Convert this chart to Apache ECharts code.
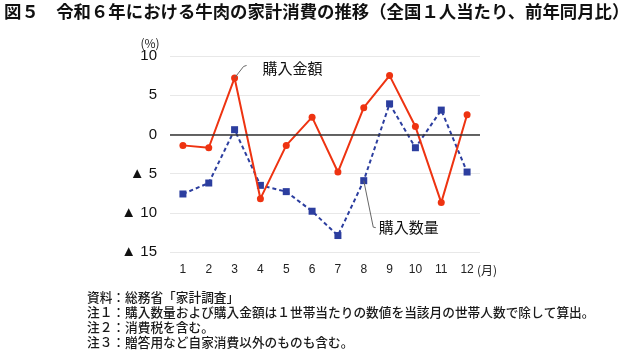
<!DOCTYPE html>
<html>
<head>
<meta charset="utf-8">
<script src="https://cdn.jsdelivr.net/npm/echarts@6/dist/echarts.min.js"></script>
<style>
  html, body { margin: 0; padding: 0; background: #fff; }
  #chart { width: 640px; height: 353px; }
</style>
</head>
<body>
<div id="chart"></div>
<script>
const months = ['1', '2', '3', '4', '5', '6', '7', '8', '9', '10', '11', '12']
const amount = [-1.4, -1.7, 7.2, -8.2, -1.4, 2.2, -4.8, 3.4, 7.5, 1.0, -8.7, 2.5]   // 購入金額
const quantity = [-7.6, -6.2, 0.6, -6.5, -7.3, -9.8, -12.9, -5.9, 3.9, -1.7, 3.1, -4.8] // 購入数量
const notes = [
  '資料：総務省「家計調査」',
  '注１：購入数量および購入金額は１世帯当たりの数値を当該月の世帯人数で除して算出。',
  '注２：消費税を含む。',
  '注３：贈答用など自家消費以外のものも含む。'
]

const JP = '"Noto Sans CJK JP", sans-serif'
const RED = '#ee3311'
const BLUE = '#2c3e9f'

const chart = echarts.init(document.getElementById('chart'))

const graphics = [
  { type: 'text', left: 4, top: 3, style: { text: '図５　令和６年における牛肉の家計消費の推移（全国１人当たり、前年同月比）', font: 'bold 17.4px ' + JP, fill: '#111' } },
  { type: 'text', x: 150, y: 43, style: { text: '(%)', font: '12px ' + JP, fill: '#222', textAlign: 'center', textVerticalAlign: 'middle' } },
  { type: 'text', x: 477, y: 270, style: { text: '(月)', font: '12px ' + JP, fill: '#222', textVerticalAlign: 'middle' } }
]
notes.forEach((t, i) => {
  graphics.push({ type: 'text', x: 87, y: 297 + i * 15, style: { text: t, font: '500 12.7px ' + JP, fill: '#1a1a1a', textVerticalAlign: 'middle' } })
})

chart.setOption({
  animation: false,
  grid: { left: 170, right: 160, top: 56, bottom: 101 },
  xAxis: {
    type: 'category', data: months,
    axisLine: { show: false }, axisTick: { show: false },
    axisLabel: { color: '#222', fontSize: 12, fontFamily: 'Liberation Sans', margin: 12 }
  },
  yAxis: {
    type: 'value', min: -15, max: 10, interval: 5,
    axisLine: { show: false }, axisTick: { show: false },
    splitLine: { lineStyle: { color: '#e8e8e8', width: 1 } },
    axisLabel: {
      color: '#111', fontSize: 15, fontFamily: 'Liberation Sans', margin: 13,
      formatter: v => v < 0 ? '▲ ' + (-v) : String(v)
    }
  },
  series: [
    {
      name: '購入金額', type: 'line', data: amount,
      symbol: 'circle', symbolSize: 7,
      lineStyle: { color: RED, width: 2 }, itemStyle: { color: RED },
      markLine: {
        silent: true, symbol: 'none', label: { show: false },
        lineStyle: { color: '#333', type: 'solid', width: 1.5 },
        data: [{ yAxis: 0 }]
      },
      z: 3
    },
    {
      name: '購入数量', type: 'line', data: quantity,
      symbol: 'rect', symbolSize: 7,
      lineStyle: { color: BLUE, width: 2, type: [4, 3] }, itemStyle: { color: BLUE },
      z: 2
    }
  ],
  graphic: graphics
})

// leader lines and series labels, anchored to data points
const pA = chart.convertToPixel({ seriesIndex: 0 }, [2, amount[2]])
const pQ = chart.convertToPixel({ seriesIndex: 1 }, [7, quantity[7]])
graphics.push(
  { type: 'polyline', shape: { points: [[pA[0], pA[1]], [pA[0] + 9, pA[1] - 11.5], [pA[0] + 12, pA[1] - 12.5]] }, style: { stroke: '#666', lineWidth: 1, fill: null }, z: 10 },
  { type: 'text', x: pA[0] + 28, y: pA[1] - 10, style: { text: '購入金額', font: '15px ' + JP, fill: '#111', textVerticalAlign: 'middle' }, z: 10 },
  { type: 'polyline', shape: { points: [[pQ[0], pQ[1]], [pQ[0] + 9.5, pQ[1] + 46.5], [pQ[0] + 12, pQ[1] + 47]] }, style: { stroke: '#666', lineWidth: 1, fill: null }, z: 10 },
  { type: 'text', x: pQ[0] + 15, y: pQ[1] + 47, style: { text: '購入数量', font: '15px ' + JP, fill: '#111', textVerticalAlign: 'middle' }, z: 10 }
)
chart.setOption({ graphic: graphics })
</script>
</body>
</html>
